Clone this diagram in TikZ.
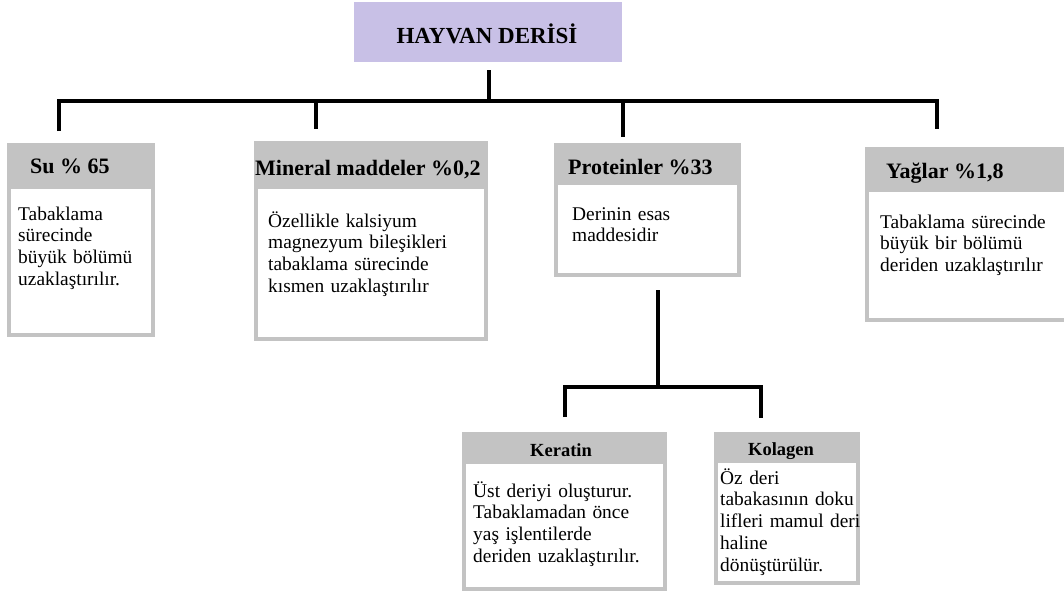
\documentclass[tikz,border=0pt]{standalone}
\usepackage{fontspec}
\setmainfont{Liberation Serif}
\definecolor{lavender}{RGB}{200,192,230}
\definecolor{cardgray}{RGB}{195,195,195}
\begin{document}
\begin{tikzpicture}[x=1pt,y=-1pt,
  link/.style={line width=4pt, line join=miter, line cap=butt},
  cardbg/.style={fill=cardgray},
  panel/.style={fill=white},
  titletext/.style={anchor=base, inner sep=0, font=\fontsize{23}{26}\selectfont\bfseries},
  headtext/.style={anchor=base west, inner sep=0, font=\fontsize{22}{25}\selectfont\bfseries},
  subhead/.style={anchor=base west, inner sep=0, font=\fontsize{18.5}{21}\selectfont\bfseries},
  bodytext/.style={anchor=base west, inner sep=0, align=left, text width=#1,
    font=\fontsize{19.4}{21.8}\selectfont},
  bodytext/.default=200pt]
\useasboundingbox (0,0) rectangle (1064,594);
\clip (0,0) rectangle (1064,594);

% title
\node[fill=lavender, minimum width=268pt, minimum height=60pt, anchor=north west, inner sep=0] (title) at (354,2) {};
\node[titletext] (titlelbl) at (487,44) {HAYVAN DERİSİ};

% cards: grey frame + header band, white panel below the header
\fill[cardbg] (7,143) rectangle (155,337);   \fill[panel] (11,189) rectangle (151,333);
\fill[cardbg] (254,141) rectangle (488,341); \fill[panel] (258,189) rectangle (484,337);
\fill[cardbg] (554,143) rectangle (741,277); \fill[panel] (558,185) rectangle (737,273);
\fill[cardbg] (865,147) rectangle (1072,322); \fill[panel] (869,192) rectangle (1076,318);
\fill[cardbg] (462,432) rectangle (667,591); \fill[panel] (466,464) rectangle (663,587);
\fill[cardbg] (714,432) rectangle (860,585); \fill[panel] (718,463) rectangle (856,581);

% headers
\node[headtext] (su) at (30,173) {Su \% 65};
\node[headtext] (mineral) at (255,175) {Mineral maddeler \%0,2};
\node[headtext] (protein) at (568,174) {Proteinler \%33};
\node[headtext] (yag) at (886,178) {Yağlar \%1,8};
\node[subhead] (keratin) at (530,456) {Keratin};
\node[subhead] (kolagen) at (748,455) {Kolagen};

% descriptions
\node[bodytext] (subody) at (18,220) {Tabaklama\\sürecinde\\büyük bölümü\\uzaklaştırılır.};
\node[bodytext] (mineralbody) at (268,227) {Özellikle kalsiyum\\magnezyum bileşikleri\\tabaklama sürecinde\\kısmen uzaklaştırılır};
\node[bodytext] (proteinbody) at (572,220) {Derinin esas\\maddesidir};
\node[bodytext] (yagbody) at (880,228) {Tabaklama sürecinde\\büyük bir bölümü\\deriden uzaklaştırılır};
\node[bodytext] (keratinbody) at (473,497) {Üst deriyi oluşturur.\\Tabaklamadan önce\\yaş işlentilerde\\deriden uzaklaştırılır.};
\node[bodytext] (kolagenbody) at (720,484) {Öz deri\\tabakasının doku\\lifleri mamul deri\\haline\\dönüştürülür.};

% connector joints
\coordinate (titlefoot) at (489,70);
\coordinate (hub) at (489,101);
\coordinate (busL) at (59,101);  \coordinate (dropL) at (59,131);
\coordinate (busR) at (937,101); \coordinate (dropR) at (937,129);
\coordinate (busM) at (316,101); \coordinate (dropM) at (316,129);
\coordinate (busP) at (623,101); \coordinate (dropP) at (623,137);
\coordinate (protfoot) at (658,290);
\coordinate (subhub) at (658,387);
\coordinate (subL) at (565,387); \coordinate (subLdrop) at (565,417);
\coordinate (subR) at (761,387); \coordinate (subRdrop) at (761,418);

\draw[link] (titlefoot) -- (hub);
\draw[link] (dropL) -- (busL) -- (busR) -- (dropR);
\draw[link] (busM) -- (dropM);
\draw[link] (busP) -- (dropP);
\draw[link] (protfoot) -- (subhub);
\draw[link] (subLdrop) -- (subL) -- (subR) -- (subRdrop);
\end{tikzpicture}
\end{document}
